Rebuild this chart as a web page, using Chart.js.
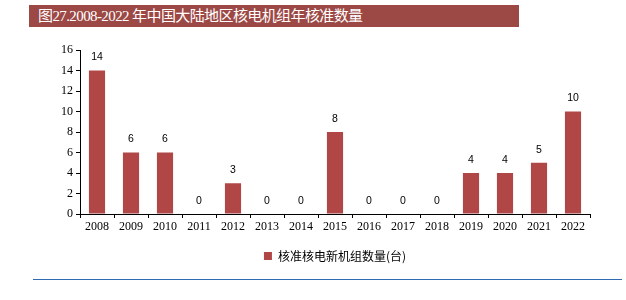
<!DOCTYPE html>
<html>
<head>
<meta charset="utf-8">
<script src="https://cdn.jsdelivr.net/npm/chart.js@4/dist/chart.umd.min.js"></script>
<style>
  body { margin: 0; width: 626px; height: 300px; background: #fff; position: relative; overflow: hidden; }
  #title {
    position: absolute; left: 29px; top: 5px; width: 490px; height: 22px;
    background: #9c4946; color: #fff; font-family: "Liberation Serif", "Noto Sans CJK SC", serif;
    font-size: 15px; line-height: 22px; padding-left: 9px; box-sizing: border-box; letter-spacing: -0.6px;
  }
  #wrap { position: absolute; left: 0; top: 0; width: 626px; height: 272px; }
  #rule { position: absolute; left: 33px; top: 279px; width: 589px; height: 1px; background: #2f6bb0; }
</style>
</head>
<body>
<div id="title">图27.2008-2022 年中国大陆地区核电机组年核准数量</div>
<div id="wrap"><canvas id="chart"></canvas></div>
<div id="rule"></div>
<script>
const years = ["2008", "2009", "2010", "2011", "2012", "2013", "2014", "2015", "2016", "2017", "2018", "2019", "2020", "2021", "2022"];
const approved = [14, 6, 6, 0, 3, 0, 0, 8, 0, 0, 0, 4, 4, 5, 10];
const seriesName = "核准核电新机组数量(台)";

// numbers above the bars
const valueLabels = {
    id: "valueLabels",
    afterDatasetsDraw(chart) {
        const ctx = chart.ctx;
        const meta = chart.getDatasetMeta(0);
        ctx.save();
        ctx.font = "10.5px 'Liberation Sans', sans-serif";
        ctx.fillStyle = "#000";
        ctx.textAlign = "center";
        ctx.textBaseline = "middle";
        meta.data.forEach((bar, i) => {
            ctx.fillText(approved[i], bar.x, bar.y - 13);
        });
        ctx.restore();
    }
};

new Chart(document.getElementById("chart"), {
    type: "bar",
    data: {
        labels: years,
        datasets: [{
            label: seriesName,
            data: approved,
            backgroundColor: "#b04646",
            barPercentage: 0.5,
            categoryPercentage: 0.95
        }]
    },
    options: {
        responsive: true,
        maintainAspectRatio: false,
        animation: false,
        layout: { padding: { top: 50, right: 36, left: 0, bottom: 0 } },
        scales: {
            x: {
                grid: { display: true, drawOnChartArea: false, color: "#000", tickLength: 4, offset: true },
                border: { color: "#000" },
                ticks: { color: "#000", font: { family: "'Liberation Serif', serif", size: 12 }, padding: 2, maxRotation: 0 },
                afterFit(axis) { axis.height = 25; }
            },
            y: {
                min: 0,
                max: 16,
                ticks: { stepSize: 2, color: "#000", font: { family: "'Liberation Serif', serif", size: 12 }, padding: 3 },
                grid: { display: true, drawOnChartArea: false, color: "#000", tickLength: 4 },
                border: { color: "#000" },
                afterFit(axis) { axis.width = 80; }
            }
        },
        plugins: {
            legend: {
                position: "bottom",
                fullSize: false,
                labels: {
                    boxWidth: 8, boxHeight: 8, padding: 11, color: "#000",
                    font: { family: "'Noto Sans CJK SC', sans-serif", size: 12 }
                }
            },
            tooltip: { enabled: false }
        }
    },
    plugins: [valueLabels]
});
</script>
</body>
</html>
